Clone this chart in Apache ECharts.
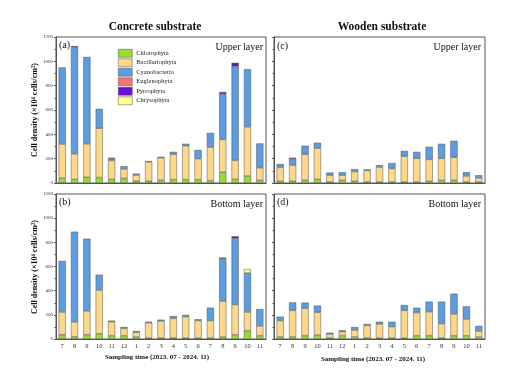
<!DOCTYPE html>
<html><head><meta charset="utf-8">
<script src="https://cdn.jsdelivr.net/npm/echarts@6/dist/echarts.min.js"></script>
<style>html,body{margin:0;padding:0;background:#fff}#c{width:510px;height:378px}</style>
</head><body><div id="c"></div>
<script>
var months = ['7','8','9','10','11','12','1','2','3','4','5','6','7','8','9','10','11'];
var groups = ['Chlorophyta','Bacillariophyta','Cyanobacteria','Euglenophyta','Pyrrophyta','Chrysophyta'];
var colors = ['#97dc2e','#fdd888','#5b9de0','#f47474','#6a0fd4','#ffff8a'];

// (a) Concrete, upper layer
var aChl = [40,30,47,45,30,38,15,14,22,28,28,28,20,89,30,58,22];
var aBac = [280,210,275,405,155,78,50,160,186,208,278,172,275,269,156,403,103];
var aCya = [630,875,714,160,15,22,12,6,8,20,16,72,117,373,772,475,200];
var aEug = [0,0,0,0,8,0,0,0,0,0,0,0,0,0,0,0,0];
var aPyr = [0,10,0,0,0,0,0,0,0,0,0,0,0,17,30,0,0];
var aChr = [0,0,0,0,0,0,0,0,0,0,0,0,0,0,0,0,0];
// (b) Concrete, bottom layer
var bChl = [36,19,36,44,28,28,17,8,8,8,8,8,8,17,36,69,28];
var bBac = [187,122,196,361,115,60,38,127,141,163,177,144,144,297,248,154,80];
var bCya = [423,747,598,127,9,11,11,8,11,19,14,11,107,354,549,323,140];
var bEug = [0,0,0,0,0,0,0,0,0,0,0,0,0,0,0,0,0];
var bPyr = [0,0,0,0,0,0,0,0,0,0,0,0,0,5,17,0,0];
var bChr = [0,0,0,0,0,0,0,0,0,0,0,0,0,0,0,33,0];
// (c) Wooden, upper layer
var cChl = [14,14,22,30,8,22,14,8,8,8,8,8,14,22,22,8,8];
var cBac = [114,133,214,256,56,42,80,95,123,111,211,195,180,181,189,50,34];
var cCya = [28,53,70,45,22,25,20,8,16,45,45,53,103,119,136,31,22];
var cEug = [0,0,0,0,0,0,0,0,0,0,0,0,0,0,0,0,0];
var cPyr = [0,8,0,0,0,0,0,0,0,0,0,0,0,0,0,0,0];
var cChr = [0,0,0,0,0,0,0,0,0,0,0,0,0,0,0,0,0];
// (d) Wooden, bottom layer
var dChl = [17,17,28,33,8,28,17,8,8,8,8,28,28,8,28,28,17];
var dBac = [135,220,226,188,33,33,57,105,116,94,229,190,198,119,179,138,49];
var dCya = [33,66,47,55,11,11,25,11,19,41,44,41,83,182,168,104,42];
var dEug = [0,0,0,0,0,0,0,0,0,0,0,0,0,0,0,0,0];
var dPyr = [0,0,0,0,0,0,0,0,0,0,0,0,0,0,0,0,0];
var dChr = [0,0,0,0,0,0,0,0,0,0,0,0,0,0,0,0,0];

var yTicks = [0,200,400,600,800,1000,1200];

var panels = [
  {data:[aChl,aBac,aCya,aEug,aPyr,aChr], grid:{left:56,top:37,width:210,height:146}, ylab:true, xlab:false},
  {data:[bChl,bBac,bCya,bEug,bPyr,bChr], grid:{left:56,top:194,width:210,height:145}, ylab:true, xlab:true},
  {data:[cChl,cBac,cCya,cEug,cPyr,cChr], grid:{left:274,top:37,width:211,height:146}, ylab:false, xlab:false},
  {data:[dChl,dBac,dCya,dEug,dPyr,dChr], grid:{left:274,top:194,width:211,height:145}, ylab:false, xlab:true}
];

var FONT = '"Liberation Serif","Times New Roman",serif';
var grids=[], xAxes=[], yAxes=[], series=[];
panels.forEach(function(p,i){
  grids.push(Object.assign({show:true,borderColor:'#555',borderWidth:1,backgroundColor:'transparent'},p.grid));
  xAxes.push({type:'category',gridIndex:i,data:months,
    axisLine:{lineStyle:{color:'#555',width:1}},axisTick:{show:false},
    axisLabel:{show:p.xlab,fontSize:6.5,color:'#333',fontFamily:FONT,margin:4,interval:0}});
  yAxes.push({type:'value',gridIndex:i,min:yTicks[0],max:yTicks[yTicks.length-1],interval:200,
    axisLine:{show:true,lineStyle:{color:'#555',width:1}},
    axisTick:{show:true,length:2,lineStyle:{color:'#555'}},
    minorTick:{show:true,splitNumber:2,length:1.5,lineStyle:{color:'#555'}},
    splitLine:{show:false},
    axisLabel:{show:p.ylab,fontSize:5,color:'#333',fontFamily:FONT,margin:3,formatter:function(v){return String(v);}}});
  groups.forEach(function(g,k){
    series.push({name:g,type:'bar',xAxisIndex:i,yAxisIndex:i,stack:'s'+i,
      barCategoryGap:'42%',
      itemStyle:{color:colors[k],borderColor:'#555',borderWidth:0.5},
      emphasis:{disabled:true},
      data:p.data[k].map(function(v){return v>0?v:null;})});
  });
});

function txt(x,y,t,size,bold,align){
  return {type:'text',x:x,y:y,style:{text:t,fontFamily:FONT,fontSize:size,fontWeight:bold?'bold':'normal',fill:'#111',textAlign:align||'left',textVerticalAlign:'middle'}};
}
var graphics=[
  txt(155,27,'Concrete substrate',11.5,true,'center'),
  txt(382,27,'Wooden substrate',11.5,true,'center'),
  txt(59,45,'(a)',10,false,'left'),
  txt(263,47,'Upper layer',10,false,'right'),
  txt(59,202,'(b)',10,false,'left'),
  txt(263,204,'Bottom layer',10,false,'right'),
  txt(277,46,'(c)',10,false,'left'),
  txt(481,47,'Upper layer',10,false,'right'),
  txt(277,202,'(d)',10,false,'left'),
  txt(481,204,'Bottom layer',10,false,'right'),
  txt(157,357,'Sampling time (2023. 07 - 2024. 11)',7,true,'center'),
  txt(373,359,'Sampling time (2023. 07 - 2024. 11)',7,true,'center'),
  {type:'text',x:35,y:110,rotation:Math.PI/2,style:{text:'Cell density (×10⁴ cells/cm²)',fontFamily:FONT,fontSize:8,fontWeight:'bold',fill:'#111',textAlign:'center',textVerticalAlign:'middle'}},
  {type:'text',x:35,y:267,rotation:Math.PI/2,style:{text:'Cell density (×10⁴ cells/cm²)',fontFamily:FONT,fontSize:8,fontWeight:'bold',fill:'#111',textAlign:'center',textVerticalAlign:'middle'}}
];

var chart = echarts.init(document.getElementById('c'),null,{renderer:'canvas'});
chart.setOption({
  animation:false,
  backgroundColor:'#fff',
  grid:grids, xAxis:xAxes, yAxis:yAxes, series:series,
  legend:{data:groups,orient:'vertical',left:118,top:49,itemWidth:14,itemHeight:8,itemGap:1,
    icon:'rect',padding:0,selectedMode:false,
    itemStyle:{borderColor:'#555',borderWidth:0.5},
    textStyle:{fontFamily:FONT,fontSize:6.5,color:'#222',padding:[0,0,0,-1]}},
  graphic:graphics
});
</script></body></html>
